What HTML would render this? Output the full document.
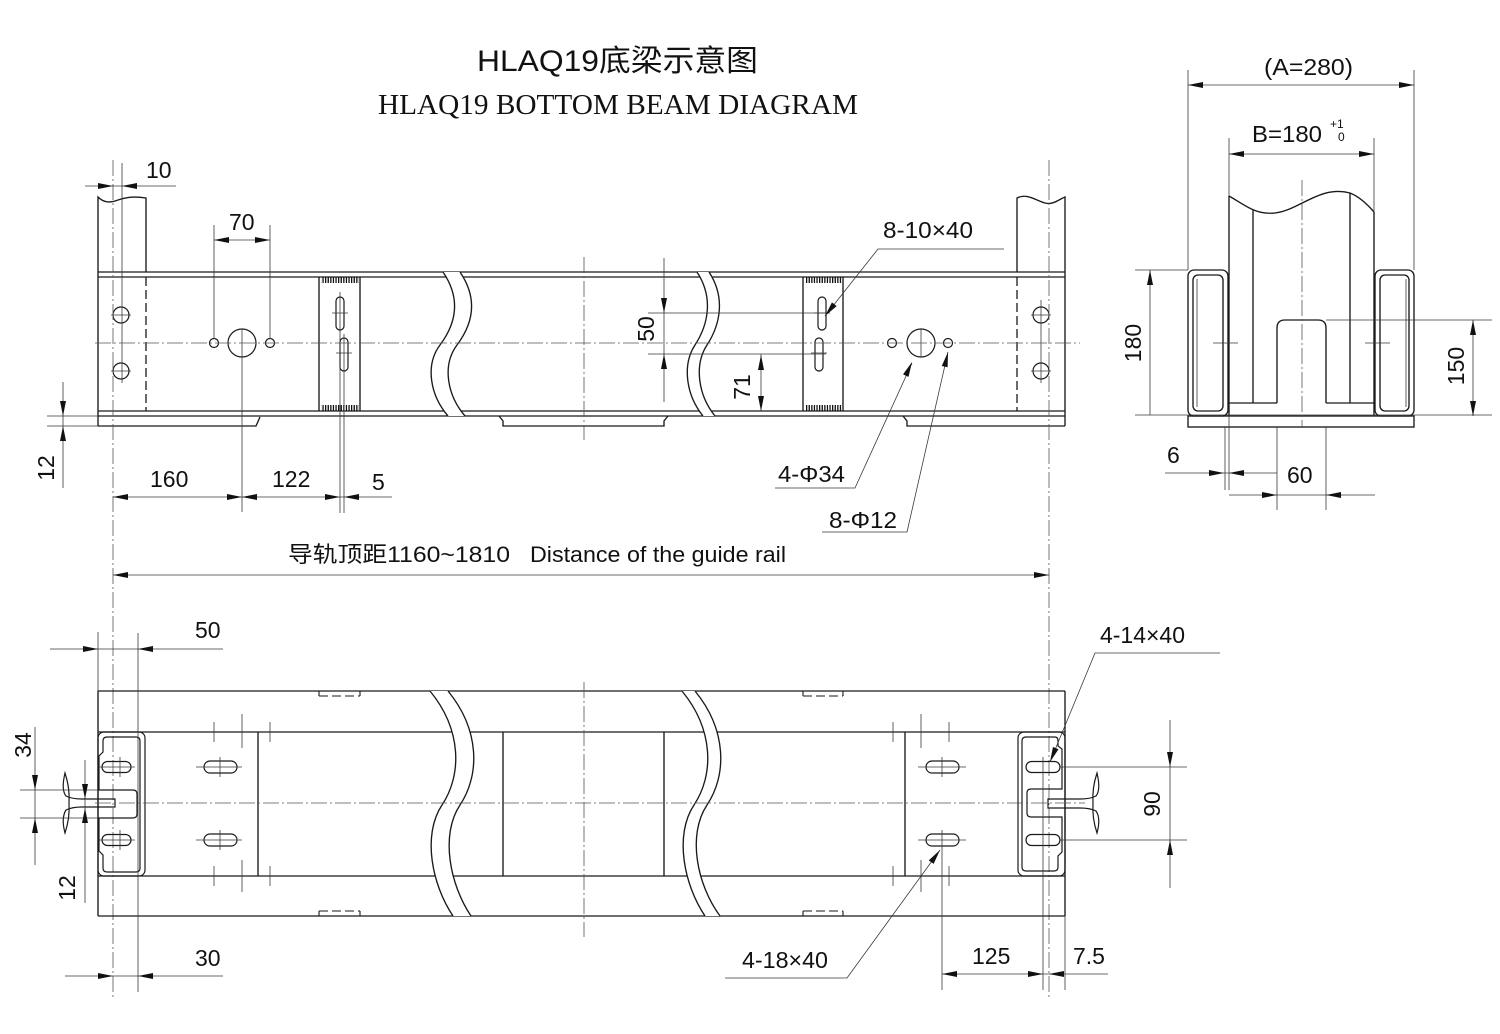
<!DOCTYPE html>
<html><head><meta charset="utf-8">
<style>
html,body{margin:0;padding:0;background:#fff;width:1500px;height:1034px;overflow:hidden;}
svg{display:block;}
text{font-family:"Liberation Sans","Noto Sans CJK SC",sans-serif;fill:#111;}
.m{fill:none;stroke:#1a1a1a;stroke-width:1.35;}
.t{fill:none;stroke:#3a3a3a;stroke-width:0.8;}
.c{fill:none;stroke:#555;stroke-width:0.8;stroke-dasharray:16 3 2 3;}
.d{fill:none;stroke:#1a1a1a;stroke-width:1.3;stroke-dasharray:9 4;}
.l{font-size:23px;}
</style></head><body>
<svg width="1500" height="1034" viewBox="0 0 1500 1034" xmlns="http://www.w3.org/2000/svg">
<defs>
<path id="ah" d="M0,0 L-15,-3 L-15,3Z" fill="#111"/>
<pattern id="hat" x="0" y="0" width="2.6" height="20" patternUnits="userSpaceOnUse"><rect x="0" y="0" width="1.3" height="20" fill="#111"/></pattern>
</defs>
<rect width="1500" height="1034" fill="#fff"/>

<!-- Titles -->
<text x="617.5" y="71" font-size="30" text-anchor="middle" textLength="281" lengthAdjust="spacingAndGlyphs">HLAQ19底梁示意图</text>
<text x="618" y="114" font-size="28" style="font-family:'Liberation Serif',serif" text-anchor="middle" textLength="480" lengthAdjust="spacingAndGlyphs">HLAQ19 BOTTOM BEAM DIAGRAM</text>

<!-- ================= TOP (FRONT) VIEW ================= -->
<g class="m">
 <path d="M98,426 V197 C104,203 110,203 118,200 C126,197 134,196 146,198 V272"/>
 <path d="M1017,272 V198 C1027,193 1035,200 1045,203 C1053,205 1058,200 1065,197 V426"/>
 <path d="M98,272 H1065 M98,277 H1065 M98,411 H1065 M98,416 H1065"/>
 <path d="M98,426 H256 L260,417"/>
 <path d="M499,416 L503,421 V426 H664 V421 L668,416"/>
 <path d="M903,416 L907,421 V426 H1065"/>
 <path d="M319,277 V411 M360,277 V411 M803,277 V411 M843,277 V411"/>
</g>
<rect x="321" y="277" width="38" height="6" fill="url(#hat)"/>
<rect x="321" y="405" width="38" height="6" fill="url(#hat)"/>
<rect x="805" y="277" width="37" height="6" fill="url(#hat)"/>
<rect x="805" y="405" width="37" height="6" fill="url(#hat)"/>
<!-- break gaps -->
<path d="M443,272 C462,300 455,325 440,345 C425,365 430,395 448,416 L465,416 C447,395 442,365 457,345 C472,325 479,300 460,272 Z" fill="#fff"/>
<path d="M697,272 C714,298 708,325 695,345 C682,365 686,395 703,416 L715,416 C698,395 694,365 707,345 C720,325 726,298 709,272 Z" fill="#fff"/>
<g class="m">
 <path d="M443,272 C462,300 455,325 440,345 C425,365 430,395 448,416"/>
 <path d="M460,272 C479,300 472,325 457,345 C442,365 447,395 465,416"/>
 <path d="M697,272 C714,298 708,325 695,345 C682,365 686,395 703,416"/>
 <path d="M709,272 C726,298 720,325 707,345 C694,365 698,395 715,416"/>
</g>
<path class="d" d="M146,277 V411 M1017,277 V411"/>
<!-- slots top view -->
<g class="m" style="stroke-width:1.2">
 <rect x="336" y="297" width="8" height="33" rx="4"/>
 <rect x="340" y="338" width="8" height="33" rx="4"/>
 <rect x="818" y="297" width="8" height="33" rx="4"/>
 <rect x="815" y="338" width="8" height="33" rx="4"/>
 <circle cx="121" cy="315" r="8"/>
 <circle cx="121" cy="371" r="8"/>
 <circle cx="1041" cy="315" r="8"/>
 <circle cx="1041" cy="371" r="8"/>
 <circle cx="214" cy="343" r="4.5"/>
 <circle cx="270" cy="343" r="4.5"/>
 <circle cx="242" cy="343" r="14"/>
 <circle cx="892" cy="343" r="4.5"/>
 <circle cx="948" cy="343" r="4.5"/>
 <circle cx="921" cy="343" r="14"/>
</g>
<g class="t">
 <path d="M111,315 H131 M111,371 H131 M1031,315 H1051 M1031,371 H1051"/>
 <path d="M122,163 V383 M1041,300 V383"/>
 <path d="M332,313 H348 M336,353 H352 M814,313 H830 M811,353 H827"/>
 <path d="M921,329 V357 M242,329 V512"/>
 <path d="M214,225 V339 M270,225 V339"/>
 <path d="M340,292 V513 M344,334 V513"/>
</g>
<path class="c" d="M95,343 H1080"/>
<path class="c" d="M584,257 V440"/>
<path class="c" d="M113,160 V998 M1049,160 V998"/>

<!-- top view dims -->
<g class="t">
 <path d="M85,186 H176"/>
 <path d="M214,240 H270"/>
 <path d="M63,382 V488 M47,416 H98 M47,426 H98"/>
 <path d="M113,497 H392"/>
 <path d="M664,258 V402 M648,313 H828 M648,354 H826"/>
 <path d="M761,354 V411"/>
 <path d="M1004,249 H878 L825,316"/>
 <path d="M775,488 H855 L912,363"/>
 <path d="M822,532 H907 L948,352"/>
 <path d="M113,575 H1049"/>
</g>
<use href="#ah" transform="translate(113,186)"/>
<use href="#ah" transform="translate(122,186) rotate(180)"/>
<use href="#ah" transform="translate(214,240) rotate(180)"/>
<use href="#ah" transform="translate(270,240)"/>
<use href="#ah" transform="translate(63,416) rotate(90)"/>
<use href="#ah" transform="translate(63,426) rotate(-90)"/>
<use href="#ah" transform="translate(113,497) rotate(180)"/>
<use href="#ah" transform="translate(242,497)"/>
<use href="#ah" transform="translate(242,497) rotate(180)"/>
<use href="#ah" transform="translate(340,497)"/>
<use href="#ah" transform="translate(344,497) rotate(180)"/>
<use href="#ah" transform="translate(664,313) rotate(90)"/>
<use href="#ah" transform="translate(664,354) rotate(-90)"/>
<use href="#ah" transform="translate(761,355) rotate(-90)"/>
<use href="#ah" transform="translate(761,411) rotate(90)"/>
<use href="#ah" transform="translate(825,316) rotate(128.3)"/>
<use href="#ah" transform="translate(912,362) rotate(-65.5)"/>
<use href="#ah" transform="translate(948,352) rotate(-77.2)"/>
<use href="#ah" transform="translate(113,575) rotate(180)"/>
<use href="#ah" transform="translate(1049,575)"/>

<text class="l" x="146" y="178">10</text>
<text class="l" x="229" y="230">70</text>
<text class="l" x="150" y="487">160</text>
<text class="l" x="272" y="487">122</text>
<text class="l" x="372" y="490">5</text>
<text class="l" x="883" y="238" textLength="90" lengthAdjust="spacingAndGlyphs">8-10×40</text>
<text class="l" x="778" y="482" textLength="67" lengthAdjust="spacingAndGlyphs">4-Φ34</text>
<text class="l" x="829" y="528" textLength="68" lengthAdjust="spacingAndGlyphs">8-Φ12</text>
<text class="l" transform="translate(646,329) rotate(-90)" text-anchor="middle" y="8">50</text>
<text class="l" transform="translate(742,387) rotate(-90)" text-anchor="middle" y="8">71</text>
<text class="l" transform="translate(46,468) rotate(-90)" text-anchor="middle" y="8">12</text>
<text x="288" y="562" font-size="22" textLength="222" lengthAdjust="spacingAndGlyphs">导轨顶距1160~1810</text>
<text x="530" y="562" font-size="22" textLength="256" lengthAdjust="spacingAndGlyphs">Distance of the guide rail</text>

<!-- ================= SIDE VIEW ================= -->
<g class="m">
 <path d="M1229,196 C1245,205 1255,215 1275,213 C1300,210 1320,185 1350,193 C1360,197 1368,205 1374,212"/>
 <path d="M1229,196 V416 M1374,212 V416"/>
 <path d="M1253,210 V403 M1350,193 V403"/>
 <path d="M1229,403 H1277 M1326,403 H1374"/>
 <path d="M1277,403 V328 Q1277,320 1285,320 H1318 Q1326,320 1326,328 V403"/>
 <rect x="1188" y="270" width="40" height="146" rx="6"/>
 <rect x="1193" y="275" width="30" height="136" rx="5"/>
 <rect x="1375" y="270" width="39" height="146" rx="6"/>
 <rect x="1380" y="275" width="29" height="136" rx="5"/>
 <rect x="1188" y="416" width="226" height="11"/>
</g>
<path class="t" d="M1197,279 V407 M1406,279 V407"/>
<path class="c" d="M1302,180 V428"/>
<g class="t">
 <path d="M1213,343 H1238 M1365,343 H1390"/>
 <path d="M1188,85 H1414 M1188,70 V270 M1414,70 V270"/>
 <path d="M1229,154 H1374 M1229,138 V196 M1374,138 V212"/>
 <path d="M1150,270 V415 M1135,270 H1188 M1135,415 H1492"/>
 <path d="M1473,320 V416 M1326,320 H1492"/>
 <path d="M1165,473 H1277 M1225,427 V490 M1229,416 V490"/>
 <path d="M1229,495 H1375 M1277,427 V510 M1326,427 V510"/>
</g>
<use href="#ah" transform="translate(1188,85) rotate(180)"/>
<use href="#ah" transform="translate(1414,85)"/>
<use href="#ah" transform="translate(1229,154) rotate(180)"/>
<use href="#ah" transform="translate(1374,154)"/>
<use href="#ah" transform="translate(1150,270) rotate(-90)"/>
<use href="#ah" transform="translate(1473,320) rotate(-90)"/>
<use href="#ah" transform="translate(1473,416) rotate(90)"/>
<use href="#ah" transform="translate(1224,473)"/>
<use href="#ah" transform="translate(1229,473) rotate(180)"/>
<use href="#ah" transform="translate(1277,495)"/>
<use href="#ah" transform="translate(1326,495) rotate(180)"/>
<text class="l" x="1264" y="75" textLength="89" lengthAdjust="spacingAndGlyphs">(A=280)</text>
<text class="l" x="1252" y="142" textLength="70" lengthAdjust="spacingAndGlyphs">B=180</text>
<text x="1330" y="128" font-size="12">+1</text>
<text x="1338" y="141" font-size="12">0</text>
<text class="l" x="1167" y="463">6</text>
<text class="l" x="1287" y="483">60</text>
<text class="l" transform="translate(1133,343) rotate(-90)" text-anchor="middle" y="8">180</text>
<text class="l" transform="translate(1456,366) rotate(-90)" text-anchor="middle" y="8">150</text>

<!-- ================= BOTTOM (PLAN) VIEW ================= -->
<g class="m">
 <path d="M98,691 H1065 M98,732 H1065 M98,876 H1065 M98,916 H1065"/>
 <path d="M98,691 V916 M1065,691 V916"/>
 <path d="M258,732 V876 M503,732 V876 M664,732 V876 M905,732 V876"/>
</g>
<path d="M430,691 C462,730 462,775 442,805 C422,835 432,885 453,916 L471,916 C450,885 440,835 460,805 C480,775 480,730 448,691 Z" fill="#fff"/>
<path d="M682,691 C714,730 714,775 694,805 C674,835 684,885 705,916 L720,916 C697,885 687,835 707,805 C727,775 727,730 695,691 Z" fill="#fff"/>
<g class="m">
 <path d="M430,691 C462,730 462,775 442,805 C422,835 432,885 453,916"/>
 <path d="M448,691 C480,730 480,775 460,805 C440,835 450,885 471,916"/>
 <path d="M682,691 C714,730 714,775 694,805 C674,835 684,885 705,916"/>
 <path d="M695,691 C727,730 727,775 707,805 C687,835 697,885 720,916"/>
</g>
<!-- tabs -->
<g class="t" style="stroke:#1a1a1a;stroke-width:1.1">
 <path d="M319,691 V696 M360,691 V696 M803,691 V696 M843,691 V696"/>
 <path d="M319,911 V916 M360,911 V916 M803,911 V916 M843,911 V916"/>
</g>
<path class="d" style="stroke-width:1.1" d="M319,696 H360 M803,696 H843 M319,911 H360 M803,911 H843"/>
<!-- channels -->
<g class="m" style="stroke-width:1.2">
 <rect x="98" y="732" width="47" height="144" rx="6"/>
 <path d="M107,737 H136 Q140,737 140,741 V868 Q140,872 136,872 H107 Q103,872 103,868 V855 L99,851 V818 H133 Q137,818 137,814 V794 Q137,790 133,790 H99 V756 L103,752 V741 Q103,737 107,737 Z"/>
 <rect x="1018" y="732" width="47" height="144" rx="6"/>
 <path d="M1026,737 H1055 Q1058,737 1058,741 V746 L1062,749 V789 H1031 Q1027,789 1027,793 V813 Q1027,817 1031,817 H1062 V852 L1058,856 V867 Q1058,871 1054,871 H1026 Q1022,871 1022,867 V741 Q1022,737 1026,737 Z"/>
 <rect x="102" y="761.5" width="29" height="11" rx="5.5"/>
 <rect x="102" y="834.5" width="29" height="11" rx="5.5"/>
 <rect x="1026" y="761.5" width="34" height="11" rx="5.5"/>
 <rect x="1026" y="834.5" width="34" height="11" rx="5.5"/>
 <rect x="204" y="761" width="33" height="12" rx="6"/>
 <rect x="204" y="834" width="33" height="12" rx="6"/>
 <rect x="926" y="761" width="33" height="12" rx="6"/>
 <rect x="926" y="834" width="33" height="12" rx="6"/>
 <path d="M65,773 Q61,790 66,796 Q72,799 82,799 H115 V807 H82 Q72,807 66,810 Q61,818 65,833 Q70,818 69,803 Q70,788 65,773 Z"/>
 <path d="M1097,773 Q1101,790 1096,796 Q1090,799 1080,799 H1048 V808 H1080 Q1090,808 1096,811 Q1101,818 1097,833 Q1092,818 1093,803 Q1092,788 1097,773 Z"/>
</g>
<g class="t">
 <path d="M99,767 H135 M99,840 H135 M120,757 V777 M120,830 V850"/>
 <path d="M196,767 H242 M196,840 H242 M220,757 V777 M220,830 V850"/>
 <path d="M918,767 H966 M918,840 H966 M942,757 V777 M942,830 V990"/>
 <path d="M214,722 V742 M270,722 V742 M242,714 V748 M214,866 V886 M270,866 V886 M242,860 V892"/>
 <path d="M893,722 V742 M949,722 V742 M921,714 V748 M893,866 V886 M949,866 V886 M921,860 V892"/>
 <path d="M98,632 V691 M138,633 V992"/>
 <path d="M1043,757 V990 M1065,916 V990"/>
 <path d="M50,649 H223 M65,976 H223"/>
 <path d="M35,727 V865 M20,790 H98 M20,818 H98"/>
 <path d="M85,760 V903"/>
 <path d="M1060,767 H1187 M1060,840 H1187 M1170,720 V888"/>
 <path d="M942,974 H1108"/>
 <path d="M1220,653 H1095 L1050,762"/>
 <path d="M725,978 H847 L940,850"/>
</g>
<path class="c" d="M95,803 H1085"/>
<path class="c" d="M584,682 V937"/>
<use href="#ah" transform="translate(98,649)"/>
<use href="#ah" transform="translate(138,649) rotate(180)"/>
<use href="#ah" transform="translate(113,976)"/>
<use href="#ah" transform="translate(138,976) rotate(180)"/>
<use href="#ah" transform="translate(35,790) rotate(90)"/>
<use href="#ah" transform="translate(35,818) rotate(-90)"/>
<use href="#ah" transform="translate(85,799) rotate(90)"/>
<use href="#ah" transform="translate(85,808) rotate(-90)"/>
<use href="#ah" transform="translate(1170,767) rotate(90)"/>
<use href="#ah" transform="translate(1170,840) rotate(-90)"/>
<use href="#ah" transform="translate(942,974) rotate(180)"/>
<use href="#ah" transform="translate(1043,974)"/>
<use href="#ah" transform="translate(1049,974) rotate(180)"/>
<use href="#ah" transform="translate(1050,762) rotate(112.4)"/>
<use href="#ah" transform="translate(940,850) rotate(-54)"/>
<text class="l" x="195" y="638">50</text>
<text class="l" x="195" y="966">30</text>
<text class="l" x="1100" y="643" textLength="85" lengthAdjust="spacingAndGlyphs">4-14×40</text>
<text class="l" x="742" y="968" textLength="86" lengthAdjust="spacingAndGlyphs">4-18×40</text>
<text class="l" x="972" y="964">125</text>
<text class="l" x="1073" y="964">7.5</text>
<text class="l" transform="translate(23,745) rotate(-90)" text-anchor="middle" y="8">34</text>
<text class="l" transform="translate(67,888) rotate(-90)" text-anchor="middle" y="8">12</text>
<text class="l" transform="translate(1152,804) rotate(-90)" text-anchor="middle" y="8">90</text>
</svg>
</body></html>
